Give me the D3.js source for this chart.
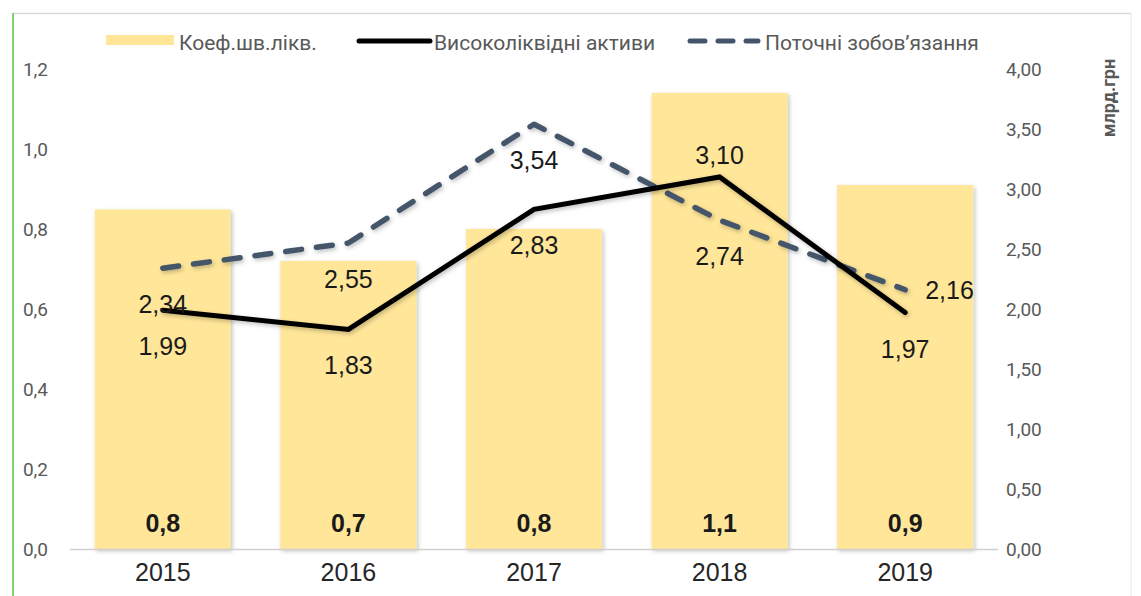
<!DOCTYPE html>
<html>
<head>
<meta charset="utf-8">
<script src="https://cdn.jsdelivr.net/npm/d3@7"></script>
<style>
  html, body { margin: 0; padding: 0; background: #fff; }
  svg { display: block; font-family: "Liberation Sans", Arial, sans-serif; }
</style>
</head>
<body>
<svg id="chart" width="1141" height="596"></svg>
<script>
// Data
const years = ["2015", "2016", "2017", "2018", "2019"];
const ratio = [0.849, 0.72, 0.80, 1.14, 0.91];          // Коеф.шв.лікв.
const liquidAssets = [1.99, 1.83, 2.83, 3.10, 1.97];    // Високоліквідні активи, млрд.грн
const currentLiab = [2.34, 2.55, 3.54, 2.74, 2.16];     // Поточні зобов'язання, млрд.грн
const leftTicks = [0, 0.2, 0.4, 0.6, 0.8, 1.0, 1.2];
const rightTicks = [0, 0.5, 1.0, 1.5, 2.0, 2.5, 3.0, 3.5, 4.0];
const seriesNames = ["Коеф.шв.лікв.", "Високоліквідні активи", "Поточні зобов’язання"];
const unitLabel = "млрд.грн";
// label placement for each line point: "above", "below", "right"
const assetsLabelPos = ["below", "below", "below", "above", "below"];
const liabLabelPos = ["below", "below", "below", "below", "right"];

const svg = d3.select("#chart");
const fmt1 = v => d3.format(".1f")(v).replace(".", ",");
const fmt2 = v => d3.format(".2f")(v).replace(".", ",");
const tickFont = "Roboto, 'Liberation Sans', Arial, sans-serif";

// Frame
svg.append("line").attr("x1", 13).attr("x2", 1131).attr("y1", 13.5).attr("y2", 13.5)
  .attr("stroke", "#d9d9d9").attr("stroke-width", 1.5);
svg.append("line").attr("x1", 1131).attr("x2", 1131).attr("y1", 13).attr("y2", 596)
  .attr("stroke", "#e6e6e6").attr("stroke-width", 1);
svg.append("line").attr("x1", 13).attr("x2", 13).attr("y1", 13).attr("y2", 596)
  .attr("stroke", "#7ed36e").attr("stroke-width", 2);

// Scales
const x = d3.scaleBand().domain(years).range([70, 998]).paddingInner(0.267).paddingOuter(0.1335);
const yL = d3.scaleLinear().domain([0, 1.2]).range([549, 69]);
const yR = d3.scaleLinear().domain([0, 4]).range([549, 69]);

// Shadow filter
const defs = svg.append("defs");
const f = defs.append("filter").attr("id", "shadow").attr("x", "-20%").attr("y", "-20%")
  .attr("width", "140%").attr("height", "140%");
f.append("feDropShadow").attr("dx", 1.5).attr("dy", 2).attr("stdDeviation", 2)
  .attr("flood-color", "#000").attr("flood-opacity", 0.25);

// Bars
svg.append("g").selectAll("rect").data(years).join("rect")
  .attr("x", d => x(d))
  .attr("y", (d, i) => yL(ratio[i]))
  .attr("width", x.bandwidth())
  .attr("height", (d, i) => yL(0) - yL(ratio[i]))
  .attr("fill", "#ffe699")
  .attr("filter", "url(#shadow)");

// X axis baseline
svg.append("line").attr("x1", 70).attr("x2", 998).attr("y1", yL(0) + 0.5).attr("y2", yL(0) + 0.5)
  .attr("stroke", "#d0d0d0").attr("stroke-width", 1.5);

// Left axis
const axL = svg.append("g").attr("transform", "translate(48,0)")
  .call(d3.axisLeft(yL).tickValues(leftTicks).tickSize(0).tickPadding(0).tickFormat(fmt1));
axL.select(".domain").remove();
axL.selectAll("text").attr("font-size", 19).attr("fill", "#595959")
  .attr("font-family", tickFont);

// Right axis
const axR = svg.append("g").attr("transform", "translate(1006,0)")
  .call(d3.axisRight(yR).tickValues(rightTicks).tickSize(0).tickPadding(0).tickFormat(fmt2));
axR.select(".domain").remove();
axR.selectAll("text").attr("font-size", 19).attr("fill", "#595959")
  .attr("font-family", tickFont);

// Right axis title
svg.append("text").attr("transform", "translate(1115,98) rotate(-90)")
  .attr("text-anchor", "middle").attr("font-size", 18).attr("font-weight", "bold")
  .attr("font-family", tickFont)
  .attr("fill", "#595959").text(unitLabel);

// X axis labels
const axB = svg.append("g").attr("transform", `translate(0,${yL(0)})`)
  .call(d3.axisBottom(x).tickSize(0).tickPadding(14));
axB.select(".domain").remove();
axB.selectAll("text").attr("font-size", 25).attr("fill", "#262626")
  .attr("font-family", "Liberation Sans, Arial, sans-serif");

// Bar value labels
svg.append("g").selectAll("text").data(years).join("text")
  .attr("x", d => x(d) + x.bandwidth() / 2)
  .attr("y", 532)
  .attr("text-anchor", "middle").attr("font-size", 25).attr("font-weight", "bold")
  .attr("fill", "#1a1a1a")
  .text((d, i) => fmt1(ratio[i]));

// Lines
const cx = d => x(d) + x.bandwidth() / 2;
const lineGen = vals => d3.line().x(d => cx(d)).y((d, i) => yR(vals[i]))(years);

svg.append("path").attr("d", lineGen(currentLiab))
  .attr("fill", "none").attr("stroke", "#44546a").attr("stroke-width", 5.5)
  .attr("stroke-dasharray", "16 15").attr("stroke-linecap", "round")
  .attr("stroke-linejoin", "round").attr("filter", "url(#shadow)");

svg.append("path").attr("d", lineGen(liquidAssets))
  .attr("fill", "none").attr("stroke", "#000").attr("stroke-width", 5)
  .attr("stroke-linecap", "round").attr("stroke-linejoin", "miter")
  .attr("filter", "url(#shadow)");

// Line value labels
function placeLabels(vals, pos) {
  svg.append("g").selectAll("text").data(years).join("text")
    .attr("x", (d, i) => pos[i] === "right" ? cx(d) + 20 : cx(d))
    .attr("y", (d, i) => {
      const py = yR(vals[i]);
      if (pos[i] === "above") return py - 13;
      if (pos[i] === "right") return py + 9;
      return py + 45;
    })
    .attr("text-anchor", (d, i) => pos[i] === "right" ? "start" : "middle")
    .attr("font-size", 25).attr("fill", "#1a1a1a")
    .text((d, i) => fmt2(vals[i]));
}
placeLabels(currentLiab, liabLabelPos);
placeLabels(liquidAssets, assetsLabelPos);

// Legend
const lg = svg.append("g").attr("font-size", 21).attr("fill", "#595959").attr("font-family", tickFont);
lg.append("rect").attr("x", 106).attr("y", 35).attr("width", 68).attr("height", 10).attr("fill", "#ffe699");
lg.append("text").attr("x", 179).attr("y", 50).text(seriesNames[0]);
lg.append("line").attr("x1", 359).attr("x2", 430).attr("y1", 41).attr("y2", 41)
  .attr("stroke", "#000").attr("stroke-width", 5).attr("stroke-linecap", "round");
lg.append("text").attr("x", 434).attr("y", 50).text(seriesNames[1]);
lg.append("line").attr("x1", 690).attr("x2", 758).attr("y1", 41).attr("y2", 41)
  .attr("stroke", "#44546a").attr("stroke-width", 5).attr("stroke-linecap", "round")
  .attr("stroke-dasharray", "15 13");
lg.append("text").attr("x", 765).attr("y", 50).text(seriesNames[2]);
</script>
</body>
</html>
